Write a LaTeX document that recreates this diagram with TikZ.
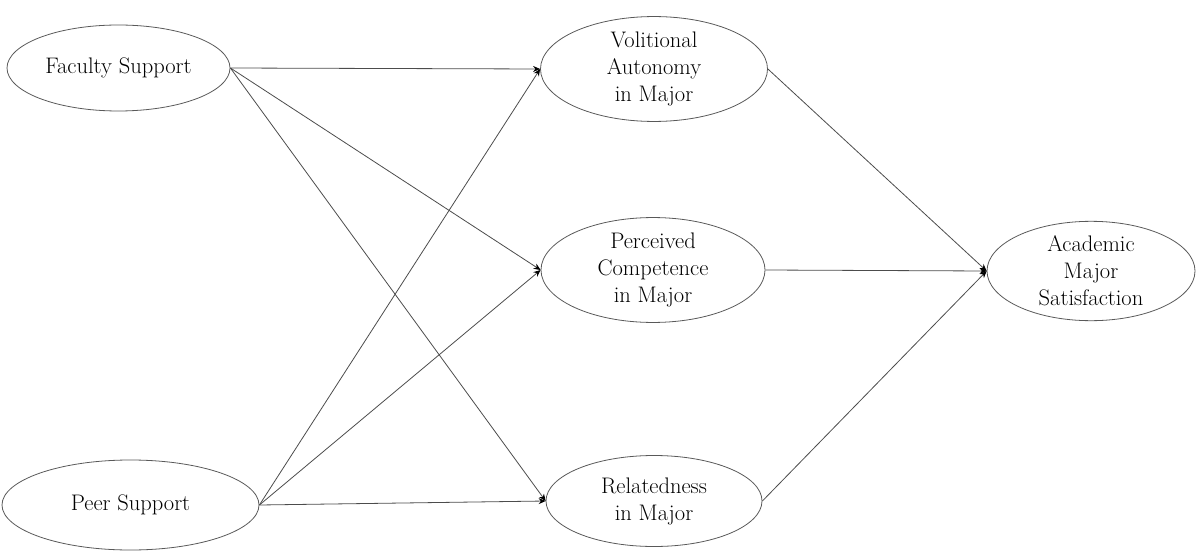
\documentclass[tikz,border=0pt]{standalone}
\usetikzlibrary{shapes.geometric,arrows.meta}
\begin{document}
\begin{tikzpicture}[x=1pt,y=-1pt,
  var/.style={ellipse,draw=black!65,line width=0.8pt,inner sep=0pt,align=center,
    font=\fontsize{22.5}{27}\selectfont,text=black},
  path/.style={draw=black!70,line width=0.8pt,-{Stealth[length=7pt,width=6pt,color=black]}}]
\useasboundingbox (0,0) rectangle (1196,559);
\node[var,minimum width=223pt,minimum height=86pt] (fs) at (118.5,68) {Faculty Support};
\node[var,minimum width=257pt,minimum height=90pt] (ps) at (130.5,505) {Peer Support};
\node[var,minimum width=227pt,minimum height=96pt] (va) at (654,69) {Volitional\\Autonomy\\in Major};
\node[var,minimum width=224pt,minimum height=96pt] (pc) at (653,270) {Perceived\\Competence\\in Major};
\node[var,minimum width=216pt,minimum height=91pt] (rm) at (654,501) {Relatedness\\in Major};
\node[var,minimum width=208pt,minimum height=98pt] (am) at (1091,271) {Academic\\Major\\Satisfaction};
\draw[path] (fs.east) -- (va.west);
\draw[path] (fs.east) -- (pc.west);
\draw[path] (fs.east) -- (rm.west);
\draw[path] (ps.east) -- (va.west);
\draw[path] (ps.east) -- (pc.west);
\draw[path] (ps.east) -- (rm.west);
\draw[path] (va.east) -- (am.west);
\draw[path] (pc.east) -- (am.west);
\draw[path] (rm.east) -- (am.west);
\end{tikzpicture}
\end{document}
